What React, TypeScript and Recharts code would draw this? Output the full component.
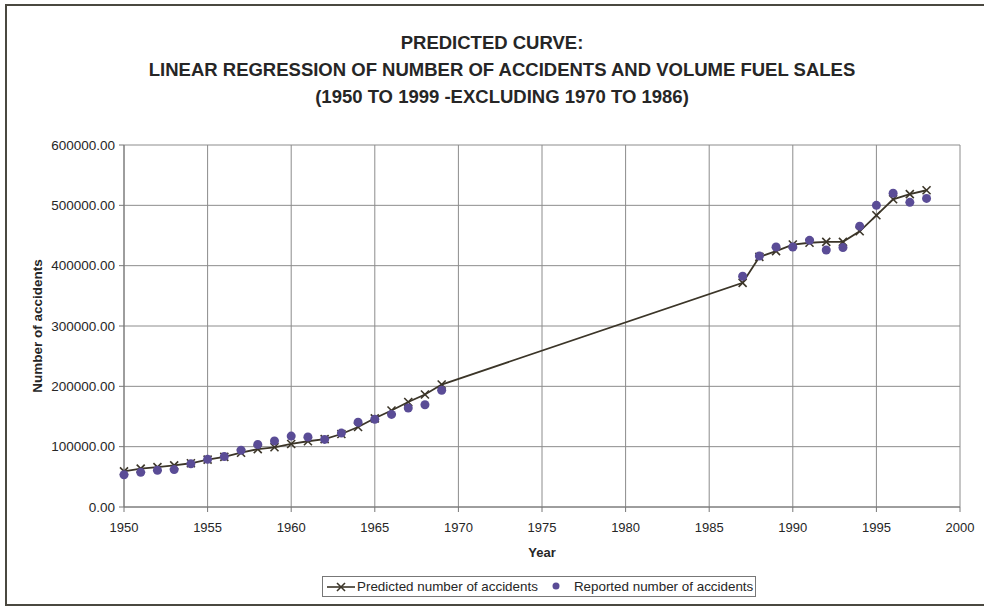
import React from "react";
import { ComposedChart, Line, XAxis, YAxis, CartesianGrid, Label } from "recharts";

// years with data (1970-1986 excluded from the regression)
const years = [
  1950, 1951, 1952, 1953, 1954, 1955, 1956, 1957, 1958, 1959,
  1960, 1961, 1962, 1963, 1964, 1965, 1966, 1967, 1968, 1969,
  1987, 1988, 1989, 1990, 1991, 1992, 1993, 1994, 1995, 1996, 1997, 1998,
];

const predicted = [
  59000, 63500, 66000, 69000, 72500, 78500, 83000, 90000, 96000, 99000,
  104500, 109000, 112500, 121000, 132500, 147000, 160000, 174000, 186500, 203000,
  371500, 414500, 424000, 435000, 438000, 439500, 439500, 457000, 483500, 510000, 518500, 525000,
];

const reported = [
  53500, 57500, 61000, 62000, 71500, 79000, 83500, 94000, 103500, 109500,
  117500, 116000, 112000, 122500, 140500, 145500, 153500, 164000, 169500, 193500,
  382500, 416000, 431000, 431000, 442000, 426000, 430000, 465500, 500000, 520000, 505000, 511500,
];

const xTicks = [1950, 1955, 1960, 1965, 1970, 1975, 1980, 1985, 1990, 1995, 2000];
const yTicks = [0, 100000, 200000, 300000, 400000, 500000, 600000];

const titleLines = [
  "PREDICTED CURVE:",
  "LINEAR REGRESSION OF NUMBER OF ACCIDENTS AND VOLUME FUEL SALES",
  "(1950 TO 1999 -EXCLUDING 1970 TO 1986)",
];

const data = years.map((year, i) => ({
  year,
  predicted: predicted[i],
  reported: reported[i],
}));

const LINE_COLOR = "#3b3528";
const DOT_COLOR = "#5a4c96";
const TEXT_COLOR = "#262626";
const FONT = "'Liberation Sans', Arial, sans-serif";

const CrossDot = (props: any) => {
  const { cx, cy } = props;
  if (cx == null || cy == null) return null;
  const s = 4;
  return (
    <g stroke={LINE_COLOR} strokeWidth={1.6}>
      <line x1={cx - s} y1={cy - s} x2={cx + s} y2={cy + s} />
      <line x1={cx - s} y1={cy + s} x2={cx + s} y2={cy - s} />
    </g>
  );
};

const RoundDot = (props: any) => {
  const { cx, cy } = props;
  if (cx == null || cy == null) return null;
  return <circle cx={cx} cy={cy} r={4.5} fill={DOT_COLOR} stroke="none" />;
};

export default function App() {
  return (
    <div
      style={{
        position: "absolute",
        left: 0,
        top: 0,
        width: 984,
        height: 606,
        background: "#fff",
        overflow: "hidden",
        fontFamily: FONT,
      }}
    >
      <div
        style={{
          position: "absolute",
          left: 5,
          top: 4,
          width: 990,
          height: 598,
          borderTop: "2px solid #4a4840",
          borderLeft: "2px solid #4a4840",
          borderBottom: "2px solid #4a4840",
        }}
      />
      <div
        style={{
          position: "absolute",
          left: 0,
          top: 29,
          width: 984,
          textAlign: "center",
          fontWeight: "bold",
          fontSize: 18.5,
          lineHeight: "27px",
          color: TEXT_COLOR,
        }}
      >
        {titleLines.map((t, i) => (
          <div key={t} style={{ paddingLeft: i === 0 ? 0 : 20 }}>{t}</div>
        ))}
      </div>

      <div style={{ position: "absolute", left: 0, top: 0 }}>
        <ComposedChart
          width={984}
          height={606}
          data={data}
          margin={{ top: 145, right: 24, bottom: 49, left: 20 }}
        >
          <CartesianGrid stroke="#8c8c8c" strokeWidth={1} />
          <XAxis
            dataKey="year"
            type="number"
            domain={[1950, 2000]}
            ticks={xTicks}
            interval={0}
            height={50}
            tickSize={5}
            tickMargin={11}
            stroke="#777"
            tick={{ fill: TEXT_COLOR, fontSize: 13, fontFamily: FONT }}
          >
            <Label
              value="Year"
              position="insideBottom"
              offset={0}
              style={{ fontWeight: "bold", fontSize: 13, fill: TEXT_COLOR, fontFamily: FONT }}
            />
          </XAxis>
          <YAxis
            type="number"
            domain={[0, 600000]}
            ticks={yTicks}
            interval={0}
            width={104}
            tickSize={5}
            tickMargin={4}
            stroke="#777"
            tickFormatter={(v: number) => v.toFixed(2)}
            tick={{ fill: TEXT_COLOR, fontSize: 13.5, fontFamily: FONT }}
          >
            <Label
              value="Number of accidents"
              angle={-90}
              position="insideLeft"
              offset={17}
              style={{ textAnchor: "middle", fontWeight: "bold", fontSize: 13.5, fill: TEXT_COLOR, fontFamily: FONT }}
            />
          </YAxis>
          <Line
            dataKey="predicted"
            stroke={LINE_COLOR}
            strokeWidth={1.8}
            dot={<CrossDot />}
            activeDot={false}
            isAnimationActive={false}
          />
          <Line
            dataKey="reported"
            stroke="none"
            dot={<RoundDot />}
            activeDot={false}
            isAnimationActive={false}
          />
        </ComposedChart>
      </div>

      <div
        style={{
          position: "absolute",
          left: 322,
          top: 576,
          width: 434,
          height: 21,
          border: "1px solid #777",
          boxSizing: "border-box",
          display: "flex",
          alignItems: "center",
          fontSize: 13.4,
          color: TEXT_COLOR,
          whiteSpace: "nowrap",
        }}
      >
        <svg width={30} height={12} style={{ marginLeft: 3, flexShrink: 0 }}>
          <line x1={1} y1={6} x2={29} y2={6} stroke={LINE_COLOR} strokeWidth={1.6} />
          <line x1={11} y1={2} x2={19} y2={10} stroke={LINE_COLOR} strokeWidth={1.6} />
          <line x1={11} y1={10} x2={19} y2={2} stroke={LINE_COLOR} strokeWidth={1.6} />
        </svg>
        <span style={{ marginLeft: 1 }}>Predicted number of accidents</span>
        <svg width={12} height={12} style={{ marginLeft: 12, flexShrink: 0 }}>
          <circle cx={6} cy={5} r={3.5} fill={DOT_COLOR} />
        </svg>
        <span style={{ marginLeft: 12 }}>Reported number of accidents</span>
      </div>
    </div>
  );
}
